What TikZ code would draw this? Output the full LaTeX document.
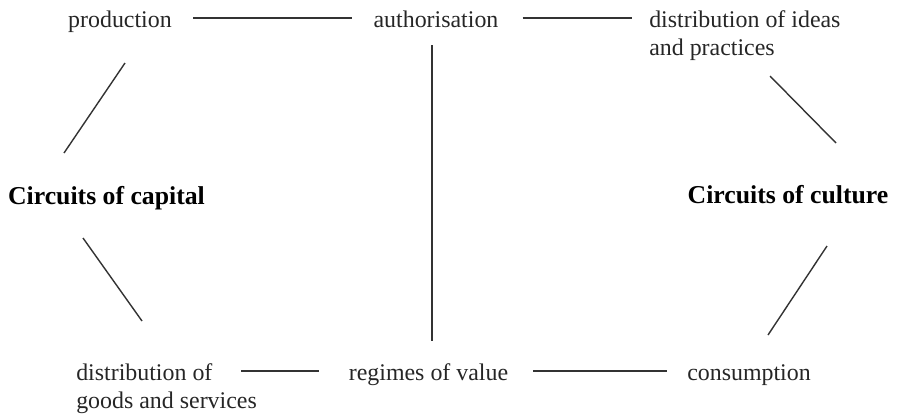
\documentclass[tikz,border=0pt]{standalone}
\usepackage{fontspec}
\setmainfont{Liberation Serif}
\tikzset{
	lbl/.style={inner sep=0pt, text height=16pt, text depth=3.2pt,
		font=\fontsize{17}{19.8}\selectfont, text=black!85},
	twoline/.style={inner sep=0pt, align=left, anchor=north west,
		font=\fontsize{17}{19.8}\selectfont, text=black!85},
	circuit/.style={lbl, font=\fontsize{18.3}{22}\selectfont\bfseries, text=black},
	link/.style={draw=black!80, line width=1pt},
}
\begin{document}
\begin{tikzpicture}[x=0.025cm, y=-0.025cm] % one unit = one pixel, y downwards
	\useasboundingbox (0,0) rectangle (901,416);
	
	% Top row
	\node[lbl] (prod) at (120,18) {production};
	\node[lbl] (auth) at (436,18) {authorisation};
	\node[twoline] (ideas) at (649,10.5) {distribution of ideas\\and practices};
	
	% The two circuits
	\node[circuit] (capital) at (106.5,195) {Circuits of capital};
	\node[circuit] (culture) at (788,194) {Circuits of culture};
	
	% Bottom row
	\node[twoline] (goods) at (76,363.5) {distribution of\\goods and services};
	\node[lbl] (regimes) at (428.5,371) {regimes of value};
	\node[lbl] (cons) at (749,371) {consumption};
	
	% Free ends of the slanted strokes
	\coordinate (capA) at (125,63);
	\coordinate (capB) at (64,153);
	\coordinate (capC) at (83,238);
	\coordinate (capD) at (142,321);
	\coordinate (culA) at (770,76);
	\coordinate (culB) at (836,143);
	\coordinate (culC) at (827,246);
	\coordinate (culD) at (768,335);
	\coordinate (goodsend) at (241,371);
	
	% Connectors
	\draw[link, shorten <=.525cm, shorten >=.525cm] (prod) -- (auth);
	\draw[link, shorten <=.6cm, shorten >=.425cm] (auth) -- (auth -| ideas.west);
	\draw[link, shorten <=.34cm, shorten >=.75cm] ([xshift=-.1cm]auth.south) -- ([xshift=-.1cm]auth |- regimes);
	\draw[link, shorten >=.75cm] (goodsend) -- (regimes);
	\draw[link, shorten <=.625cm, shorten >=.5cm] (regimes) -- (cons);
	
	\draw[link] (capA) -- (capB);
	\draw[link] (capC) -- (capD);
	\draw[link] (culA) -- (culB);
	\draw[link] (culC) -- (culD);
\end{tikzpicture}
\end{document}
